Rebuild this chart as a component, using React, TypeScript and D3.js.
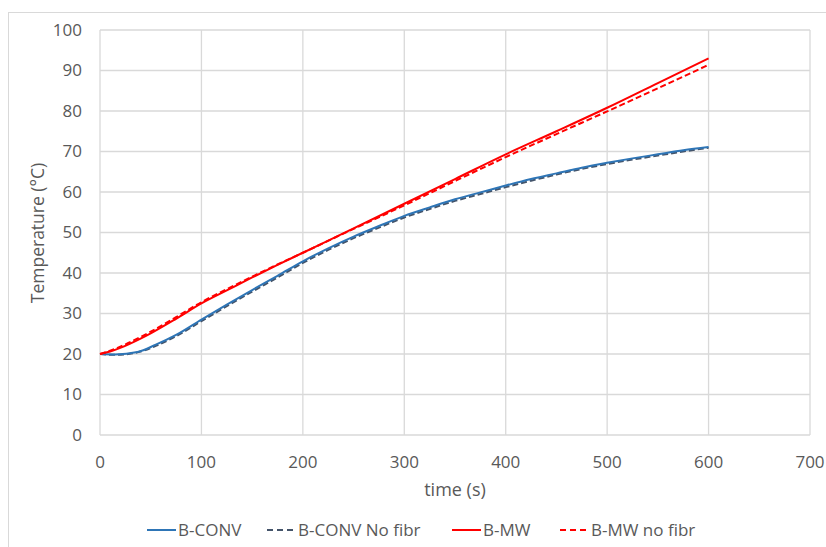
import React from "react";
import * as d3 from "d3";

const xTicks = [0, 100, 200, 300, 400, 500, 600, 700];
const yTicks = [0, 10, 20, 30, 40, 50, 60, 70, 80, 90, 100];

const timeConv = [0, 15, 37, 55, 75, 100, 125, 150, 175, 200, 225, 250, 275, 300, 325, 350, 375, 400, 425, 450, 475, 500, 525, 550, 575, 600];
const bConv = [20, 19.9, 20.5, 22.3, 24.7, 28.5, 32.2, 35.8, 39.3, 42.9, 46.1, 49.0, 51.6, 54.1, 56.2, 58.2, 59.9, 61.6, 63.2, 64.6, 66.0, 67.2, 68.3, 69.3, 70.3, 71.1];
const bConvNoFibr = [20, 19.8, 20.4, 22.0, 24.4, 28.1, 31.8, 35.4, 38.9, 42.5, 45.7, 48.6, 51.2, 53.7, 55.8, 57.8, 59.5, 61.2, 62.8, 64.3, 65.7, 66.9, 68.0, 69.0, 70.0, 70.9];

const timeMW = [0, 10, 20, 40, 50, 75, 100, 125, 150, 175, 200, 250, 300, 350, 400, 450, 500, 550, 600];
const bMW = [20, 20.6, 21.5, 23.8, 25.1, 28.7, 32.5, 35.7, 38.9, 42.0, 45.0, 51.0, 57.1, 63.2, 69.3, 75.0, 80.8, 86.9, 93.0];
const bMWNoFibr = [20, 20.8, 21.8, 24.2, 25.5, 29.1, 32.8, 36.0, 39.1, 42.1, 45.0, 50.9, 56.7, 62.7, 68.6, 74.3, 79.9, 85.6, 91.4];

const seriesNames = ["B-CONV", "B-CONV No fibr", "B-MW", "B-MW no fibr"];

export default function App() {
  const W = 826, H = 547;
  const left = 100, right = 810, top = 30, bottom = 435;
  const x = d3.scaleLinear().domain([0, 700]).range([left, right]);
  const y = d3.scaleLinear().domain([0, 100]).range([bottom, top]);
  const font = "'Open Sans', sans-serif";
  const textColor = "#595959";
  const grid = "#D9D9D9";

  const mk = (ts: number[], vs: number[]) =>
    d3.line<number>().x((_, i) => x(ts[i])).y((v) => y(v)).curve(d3.curveMonotoneX)(vs) || "";

  const series = [
    { name: seriesNames[0], d: mk(timeConv, bConv), color: "#2E75B6", dash: undefined },
    { name: seriesNames[1], d: mk(timeConv, bConvNoFibr), color: "#44546A", dash: "6 3" },
    { name: seriesNames[2], d: mk(timeMW, bMW), color: "#FF0000", dash: undefined },
    { name: seriesNames[3], d: mk(timeMW, bMWNoFibr), color: "#FF0000", dash: "6 3" },
  ];
  const drawOrder = [1, 0, 3, 2];
  const legendX = [147, 267, 452, 560];

  return (
    <svg width={W} height={H} style={{ position: "absolute", left: 0, top: 0, background: "#fff" }}>
      <rect x={8.5} y={12.5} width={W} height={H} fill="none" stroke={grid} strokeWidth={1} />
      {yTicks.map((t) => (
        <line key={"gy" + t} x1={left} x2={right} y1={y(t)} y2={y(t)} stroke={grid} strokeWidth={1.3} />
      ))}
      {xTicks.map((t) => (
        <line key={"gx" + t} x1={x(t)} x2={x(t)} y1={top} y2={bottom} stroke={grid} strokeWidth={1.3} />
      ))}
      {yTicks.map((t) => (
        <text key={"ty" + t} x={82} y={y(t)} dy="0.35em" textAnchor="end" fontFamily={font} fontSize={17} fill={textColor}>
          {t}
        </text>
      ))}
      {xTicks.map((t) => (
        <text key={"tx" + t} x={x(t)} y={462} dy="0.35em" textAnchor="middle" fontFamily={font} fontSize={17} fill={textColor}>
          {t}
        </text>
      ))}
      <text x={455} y={490} dy="0.35em" textAnchor="middle" fontFamily={font} fontSize={18} fill={textColor}>
        time (s)
      </text>
      <text transform={`translate(38,233) rotate(-90)`} dy="0.35em" textAnchor="middle" fontFamily={font} fontSize={17.5} fill={textColor}>
        Temperature (°C)
      </text>
      {drawOrder.map((i) => (
        <path key={"s" + i} d={series[i].d} fill="none" stroke={series[i].color} strokeWidth={2} strokeDasharray={series[i].dash} />
      ))}
      {series.map((s, i) => (
        <g key={"lg" + i}>
          <line x1={legendX[i]} x2={legendX[i] + 29} y1={530} y2={530} stroke={s.color} strokeWidth={2} strokeDasharray={s.dash ? "6 4" : undefined} />
          <text x={legendX[i] + 31} y={530} dy="0.35em" fontFamily={font} fontSize={17} fill={textColor}>
            {s.name}
          </text>
        </g>
      ))}
    </svg>
  );
}
